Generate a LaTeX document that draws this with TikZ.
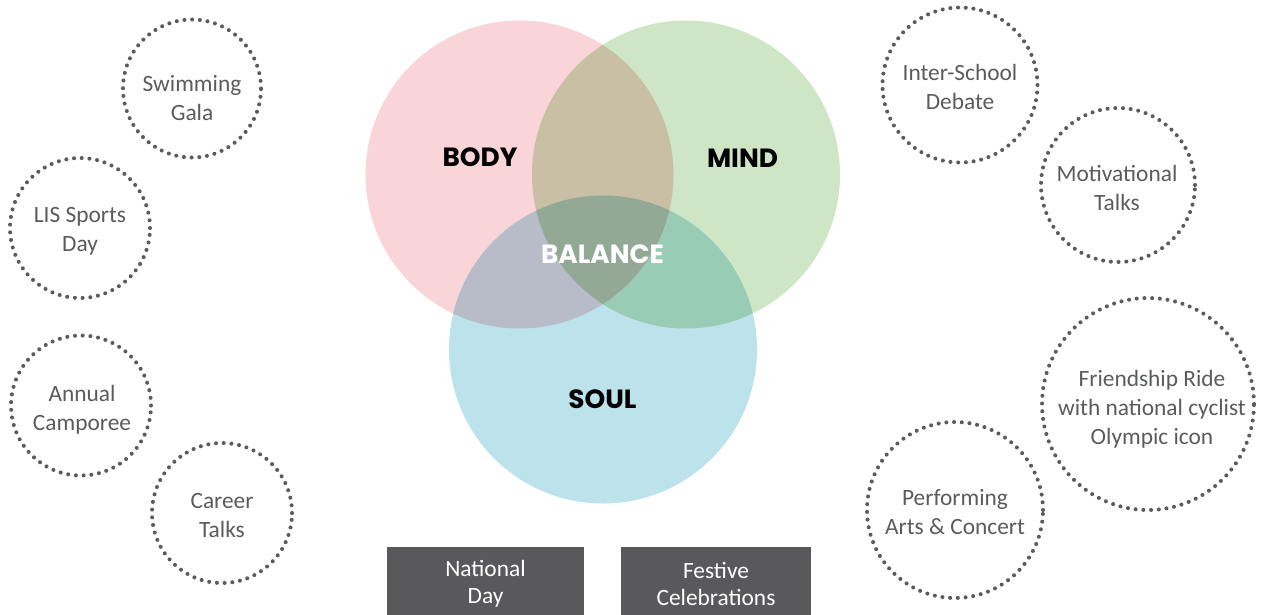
\documentclass[tikz,border=0pt]{standalone}
\usepackage{fontspec}
\setmainfont{Carlito}
\newfontfamily\headfont{Poppins}
\usetikzlibrary{positioning}

\definecolor{bodypink}{HTML}{F9D4D9}
\definecolor{mindgreen}{HTML}{CFE6C6}
\definecolor{soulblue}{HTML}{BCE3EC}
\definecolor{bodymind}{HTML}{C9BFA4}
\definecolor{bodysoul}{HTML}{B8BCC8}
\definecolor{mindsoul}{HTML}{98CCB4}
\definecolor{balancecol}{HTML}{93A996}
\definecolor{ringgray}{HTML}{5A5B5D}
\definecolor{boxgray}{HTML}{59595B}

\tikzset{
  dotring/.style={circle, draw=ringgray, line width=2.3pt, line cap=round,
    dash pattern=on 0pt off 4.4pt, minimum size=#1*0.4mm, inner sep=0pt},
  ringtext/.style={align=center, text=ringgray, font=\fontsize{13.3}{16.4}\selectfont},
  headtext/.style={font=\headfont\bfseries\fontsize{15}{16}\selectfont},
  eventbox/.style={fill=boxgray, text=white, align=center, inner sep=0pt,
    minimum height=14.6mm, anchor=north, font=\fontsize{13.3}{15.4}\selectfont}
}

\begin{document}
\begin{tikzpicture}[x=0.2mm,y=-0.2mm]
    \useasboundingbox (0,0) rectangle (1263,614);

    % Venn centres (radius 154)
    \coordinate (body) at (519.5,174.5);
    \coordinate (mind) at (686,174.5);
    \coordinate (soul) at (603,349.5);

    \fill[bodypink] (body) circle[radius=30.8mm];
    \fill[mindgreen] (mind) circle[radius=30.8mm];
    \fill[soulblue] (soul) circle[radius=30.8mm];

    % overlaps
    \begin{scope}
        \clip (mind) circle[radius=30.8mm];
        \fill[mindsoul] (soul) circle[radius=30.8mm];
    \end{scope}
    \begin{scope}
        \clip (body) circle[radius=30.8mm];
        \fill[bodymind] (mind) circle[radius=30.8mm];
        \fill[bodysoul] (soul) circle[radius=30.8mm];
        \clip (mind) circle[radius=30.8mm];
        \fill[balancecol] (soul) circle[radius=30.8mm];
    \end{scope}

    \node[headtext] (bodylbl) at (480,157.5) {BODY};
    \node[headtext] (mindlbl) at (742.5,158) {MIND};
    \node[headtext] (soullbl) at (602.5,399) {SOUL};
    \node[headtext, text=white] (balancelbl) at (602.5,254) {BALANCE};

    % left rings
    \node[dotring=69] (swim) at (192,88.5) {};
    \node[ringtext] (swimtxt) at (192,98) {Swimming\\Gala};
    \node[dotring=70] (sports) at (80,228) {};
    \node[ringtext] (sportstxt) at (80,231.5) {LIS Sports\\Day};
    \node[dotring=70] (camp) at (81,405.5) {};
    \node[ringtext] (camptxt) at (82,409.5) {Annual\\Camporee};
    \node[dotring=70] (career) at (222,513) {};
    \node[ringtext] (careertxt) at (222,515.5) {Career\\Talks};

    % right rings
    \node[dotring=77.5] (debate) at (960,85) {};
    \node[ringtext] (debatetxt) at (960,87) {Inter-School\\Debate};
    \node[dotring=77] (motiv) at (1118,185) {};
    \node[ringtext] (motivtxt) at (1117,188) {Motivational\\Talks};
    \node[dotring=106] (ride) at (1148,404) {};
    \node[ringtext] (ridetxt) at (1152,409) {Friendship Ride\\with national cyclist\\Olympic icon};
    \node[dotring=88] (arts) at (955,510) {};
    \node[ringtext] (artstxt) at (955,512) {Performing\\Arts \& Concert};

    % bottom boxes
    \node[eventbox, minimum width=39.4mm] (natday) at (485.5,547) {National\\Day};
    \node[eventbox, minimum width=38mm] (festive) at (716,547) {Festive\\Celebrations};
\end{tikzpicture}
\end{document}
